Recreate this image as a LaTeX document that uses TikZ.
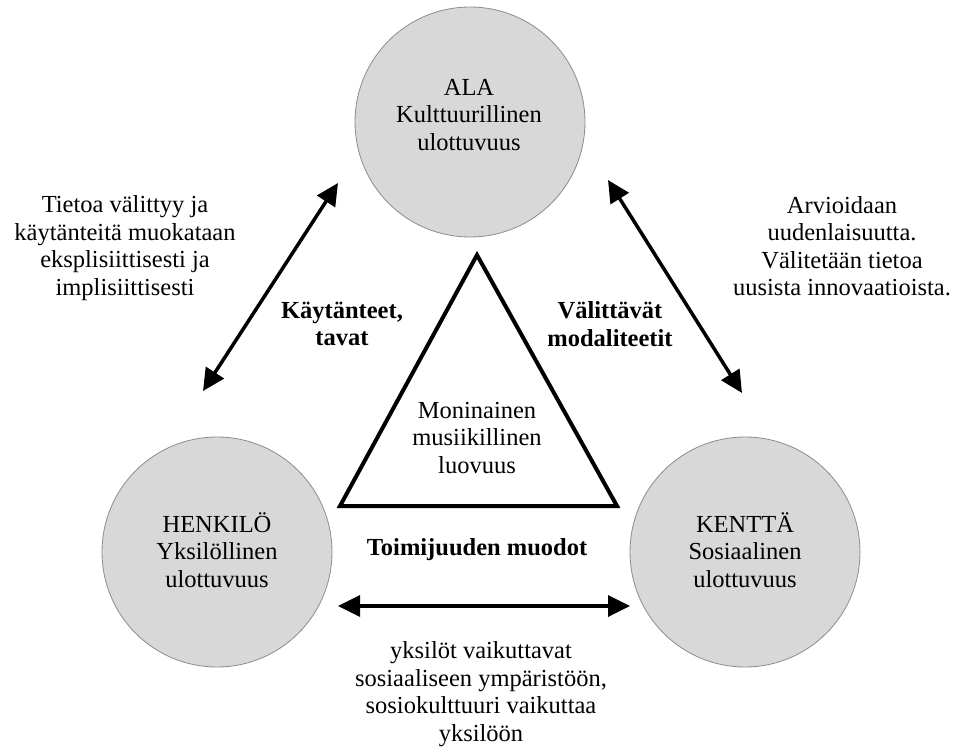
\documentclass[tikz,border=0pt]{standalone}
\usepackage{fontspec}
\setmainfont{Liberation Serif}
\usetikzlibrary{arrows.meta}
\definecolor{circfill}{HTML}{D8D8D8}
\definecolor{circedge}{HTML}{8C8C8C}
\begin{document}
\begin{tikzpicture}[x=1pt,y=-1pt,
  txt/.style={font=\fontsize{24.5}{27.5}\selectfont, align=center, inner sep=0pt},
  btxt/.style={font=\fontsize{24.5}{27.5}\selectfont\bfseries, align=center, inner sep=0pt},
  dim/.style={circle, fill=circfill, draw=circedge, line width=0.8pt, minimum size=230pt, inner sep=0pt},
  conn/.style={line width=3.5pt, {Triangle[length=22pt,width=21pt]}-{Triangle[length=22pt,width=21pt]}},
  tri/.style={line width=4pt, line join=miter}]
\useasboundingbox (0,0) rectangle (960,751);

% circles
\node[dim] (ala) at (470,122) {};
\node[dim] (henkilo) at (217,552) {};
\node[dim] (kentta) at (745,552) {};
\node[txt] (alat) at (469,115) {ALA\\Kulttuurillinen\\ulottuvuus};
\node[txt] (henkilot) at (217,550) {HENKILÖ\\Yksilöllinen\\ulottuvuus};
\node[txt] (kenttat) at (745,550) {KENTTÄ\\Sosiaalinen\\ulottuvuus};

% triangle
\coordinate (tA) at (477,255);
\coordinate (tB) at (617,506);
\coordinate (tC) at (340,506);
\draw[tri] (tA) -- (tB) -- (tC) -- cycle;
\node[txt] (luovuus) at (477,438) {Moninainen\\musiikillinen\\luovuus};

% arrows
\coordinate (l1) at (338,183);
\coordinate (l2) at (203,391);
\coordinate (r1) at (608,180);
\coordinate (r2) at (742,393);
\coordinate (b1) at (338,606);
\coordinate (b2) at (630,606);
\draw[conn] (l2) -- (l1);
\draw[conn] (r1) -- (r2);
\draw[conn] (b1) -- (b2);

% bold labels
\node[btxt] (kaytanteet) at (342,324) {Käytänteet,\\tavat};
\node[btxt] (valittavat) at (610,324) {Välittävät\\modaliteetit};
\node[btxt] (toimijuus) at (477,550) {Toimijuuden muodot};

% descriptions
\node[txt] (vasen) at (125,248) {Tietoa välittyy ja\\käytänteitä muokataan\\eksplisiittisesti ja\\implisiittisesti};
\node[txt] (oikea) at (842,246) {Arvioidaan\\uudenlaisuutta.\\Välitetään tietoa\\uusista innovaatioista.};
\node[txt] (ala2) at (481,694) {yksilöt vaikuttavat\\sosiaaliseen ympäristöön,\\sosiokulttuuri vaikuttaa\\yksilöön};
\end{tikzpicture}
\end{document}
